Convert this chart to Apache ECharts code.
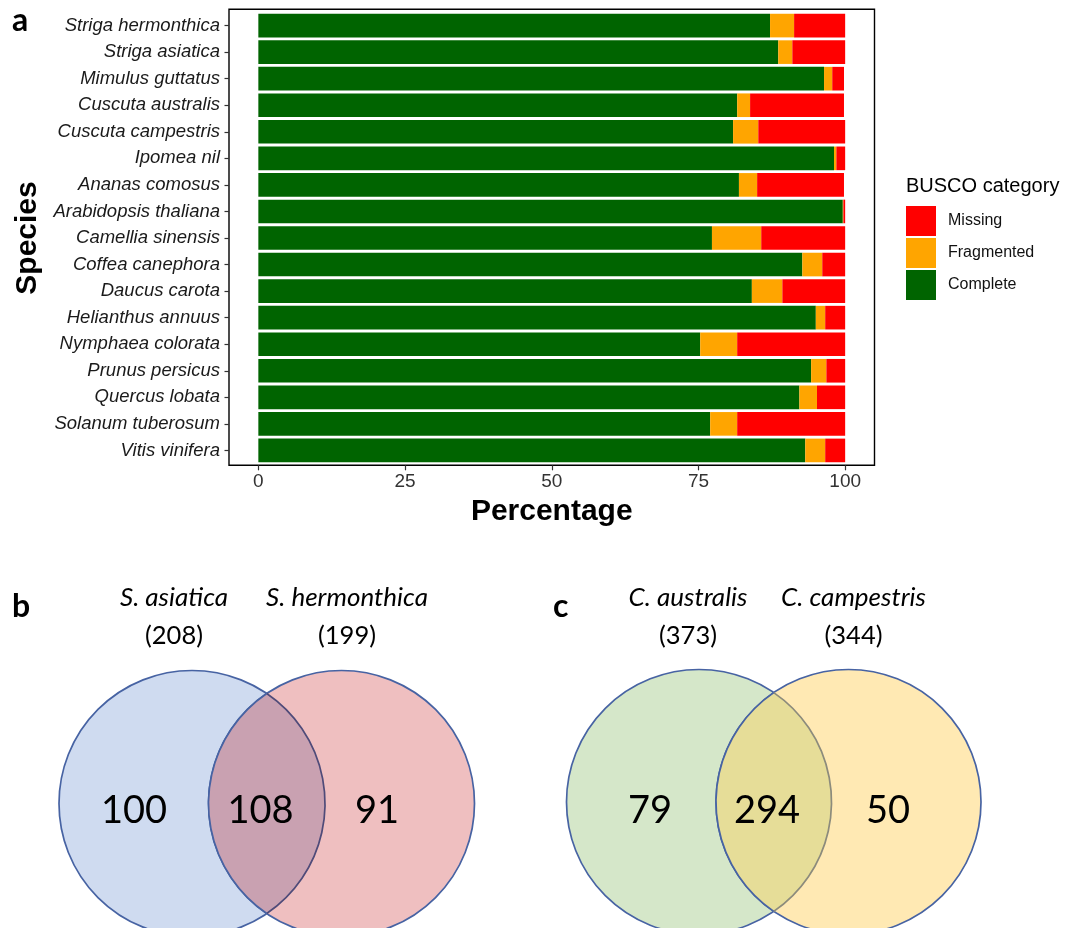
<!DOCTYPE html>
<html>
<head>
<meta charset="utf-8">
<script src="https://cdn.jsdelivr.net/npm/echarts@6/dist/echarts.min.js"></script>
<style>
  html, body { margin: 0; padding: 0; background: #ffffff; }
  #chart { width: 1073px; height: 928px; }
</style>
</head>
<body>
<div id="chart"></div>
<script>
// ---------------- DATA ----------------
const species = [
  'Striga hermonthica', 'Striga asiatica', 'Mimulus guttatus', 'Cuscuta australis',
  'Cuscuta campestris', 'Ipomea nil', 'Ananas comosus', 'Arabidopsis thaliana',
  'Camellia sinensis', 'Coffea canephora', 'Daucus carota', 'Helianthus annuus',
  'Nymphaea colorata', 'Prunus persicus', 'Quercus lobata', 'Solanum tuberosum',
  'Vitis vinifera'
];
const complete   = [87.2, 88.6, 96.4, 81.6, 80.9, 98.1, 81.9, 99.6, 77.3, 92.7, 84.1, 95.0, 75.3, 94.2, 92.2, 77.0, 93.2];
const fragmented = [4.1, 2.4, 1.4, 2.2, 4.3, 0.4, 3.1, 0.1, 8.4, 3.4, 5.2, 1.6, 6.3, 2.6, 3.0, 4.6, 3.4];
const missing    = [8.7, 9.0, 2.0, 16.0, 14.8, 1.5, 14.8, 0.3, 14.3, 3.9, 10.7, 3.4, 18.4, 3.2, 4.8, 18.4, 3.4];
const xTicks = [0, 25, 50, 75, 100];
const buscoCategories = ['Missing', 'Fragmented', 'Complete'];

const vennBNames  = ['S. asiatica', 'S. hermonthica'];
const vennBTotals = [208, 199];
const vennBCounts = [100, 108, 91];   // only left, shared, only right

const vennCNames  = ['C. australis', 'C. campestris'];
const vennCTotals = [373, 344];
const vennCCounts = [79, 294, 50];

// ---------------- STYLE / LAYOUT ----------------
const SANS = "'Liberation Sans', Arial, Helvetica, sans-serif";
const CAL = "Lato, 'Open Sans', sans-serif";
const colComplete = '#006400', colFrag = '#FFA500', colMissing = '#FF0000';

const vennB = {
  names: vennBNames, totals: vennBTotals, counts: vennBCounts,
  cx: [192, 341.5], cy: 233.5, r: 133,
  nameX: [174, 347], nameY: 28, totalY: 66,
  countX: [134, 260.5, 377], countY: 241,
  fillL: '#cfdbf0', fillR: '#efbfc0', fillO: '#c9a1b1', arcO: '#4f4b79'
};
const vennC = {
  names: vennCNames, totals: vennCTotals, counts: vennCCounts,
  cx: [159, 308.5], cy: 232, r: 132.5,
  nameX: [148, 313.5], nameY: 28, totalY: 66,
  countX: [110, 227, 348], countY: 241,
  fillL: '#d5e7c9', fillR: '#ffe9b3', fillO: '#e6dd98', arcO: '#8c8b7c'
};
const strokeBlue = '#4763a3';

function vennRender(v) {
  return function (params, api) {
    const c1 = api.coord([v.cx[0], v.cy]);
    const c2 = api.coord([v.cx[1], v.cy]);
    const r = Math.abs(api.size([v.r, 0])[0]);
    const a = (c2[0] - c1[0]) / 2;
    const h = Math.sqrt(r * r - a * a);
    const mx = c1[0] + a;
    const tp = [mx, c1[1] - h], bt = [mx, c1[1] + h];
    const lens = 'M ' + tp[0] + ' ' + tp[1] + ' A ' + r + ' ' + r + ' 0 0 1 ' + bt[0] + ' ' + bt[1] +
                 ' A ' + r + ' ' + r + ' 0 0 1 ' + tp[0] + ' ' + tp[1] + ' Z';
    const leftArc = 'M ' + tp[0] + ' ' + tp[1] + ' A ' + r + ' ' + r + ' 0 0 1 ' + bt[0] + ' ' + bt[1];
    const rightArc = 'M ' + bt[0] + ' ' + bt[1] + ' A ' + r + ' ' + r + ' 0 0 1 ' + tp[0] + ' ' + tp[1];
    const children = [
      { type: 'circle', shape: { cx: c1[0], cy: c1[1], r: r }, style: { fill: v.fillL, stroke: strokeBlue, lineWidth: 1.7 } },
      { type: 'circle', shape: { cx: c2[0], cy: c2[1], r: r }, style: { fill: v.fillR, stroke: strokeBlue, lineWidth: 1.7 } },
      { type: 'path', shape: { pathData: lens }, style: { fill: v.fillO, stroke: null } },
      { type: 'path', shape: { pathData: leftArc }, style: { fill: null, stroke: v.arcO, lineWidth: 1.7 } },
      { type: 'path', shape: { pathData: rightArc }, style: { fill: null, stroke: strokeBlue, lineWidth: 1.7 } }
    ];
    for (let i = 0; i < 2; i++) {
      const pn = api.coord([v.nameX[i], v.nameY]);
      const pt = api.coord([v.nameX[i], v.totalY]);
      children.push({ type: 'text', x: pn[0], y: pn[1], style: {
        text: v.names[i], fontFamily: CAL, fontStyle: 'italic', fontSize: 26, fill: '#000',
        align: 'center', verticalAlign: 'middle' } });
      children.push({ type: 'text', x: pt[0], y: pt[1], style: {
        text: '(' + v.totals[i] + ')', fontFamily: CAL, fontSize: 25.5, fill: '#000',
        align: 'center', verticalAlign: 'middle' } });
    }
    for (let i = 0; i < 3; i++) {
      const pc = api.coord([v.countX[i], v.countY]);
      children.push({ type: 'text', x: pc[0], y: pc[1], style: {
        text: String(v.counts[i]), fontFamily: CAL, fontSize: 38, fill: '#000',
        align: 'center', verticalAlign: 'middle' } });
    }
    return { type: 'group', children: children };
  };
}

const chart = echarts.init(document.getElementById('chart'), null, { renderer: 'canvas' });

const letterStyle = { fontFamily: CAL, fontWeight: 'bold', fontSize: 32, color: '#000' };
const option = {
  backgroundColor: '#ffffff',
  animation: false,
  title: [
    { text: 'a', left: 12, top: 5, padding: 0, textStyle: letterStyle },
    { text: 'b', left: 12, top: 591, padding: 0, textStyle: letterStyle },
    { text: 'c', left: 553, top: 591, padding: 0, textStyle: letterStyle },
    { text: 'BUSCO category', left: 906, top: 176, padding: 0,
      textStyle: { fontFamily: SANS, fontWeight: 'normal', fontSize: 20, color: '#000' } }
  ],
  legend: {
    data: buscoCategories,
    orient: 'vertical',
    left: 906, top: 206, padding: 0,
    itemWidth: 30, itemHeight: 30, itemGap: 2,
    icon: 'rect',
    selectedMode: false,
    textStyle: { fontFamily: SANS, fontSize: 16, color: '#111', padding: [0, 0, 0, 7] }
  },
  grid: [
    { left: 229, right: 198.5, top: 12.3, bottom: 464.3, containLabel: false },
    { left: 229, right: 198.5, top: 9.3, bottom: 462.7, show: true, borderColor: '#000', borderWidth: 1.4, backgroundColor: 'transparent' },
    { left: 0, top: 570, width: 540, height: 358 },
    { left: 540, top: 570, width: 533, height: 358 }
  ],
  xAxis: [
    {
      type: 'value', gridIndex: 0, min: -5, max: 105, offset: 1.6,
      name: 'Percentage', nameLocation: 'middle', nameGap: 31,
      nameTextStyle: { fontFamily: SANS, fontWeight: 'bold', fontSize: 30, color: '#000' },
      axisLine: { show: false, onZero: false },
      axisTick: { show: true, length: 5, customValues: xTicks, lineStyle: { color: '#333', width: 1.2 } },
      axisLabel: { customValues: xTicks, fontFamily: SANS, fontSize: 19, color: '#333', margin: 7 },
      splitLine: { show: false }
    },
    { type: 'value', gridIndex: 1, min: 0, max: 1, show: false },
    { type: 'value', gridIndex: 2, min: 0, max: 540, show: false },
    { type: 'value', gridIndex: 3, min: 0, max: 533, show: false }
  ],
  yAxis: [
    {
      type: 'category', gridIndex: 0, data: species, inverse: true,
      name: 'Species', nameLocation: 'middle', nameGap: 175, nameRotate: 90,
      nameTextStyle: { fontFamily: SANS, fontWeight: 'bold', fontSize: 30, color: '#000' },
      axisLine: { show: false, onZero: false },
      axisTick: { show: true, length: 4.5, alignWithLabel: true, lineStyle: { color: '#333', width: 1.2 } },
      axisLabel: { fontFamily: SANS, fontStyle: 'italic', fontSize: 18.5, color: '#1a1a1a', margin: 9 }
    },
    { type: 'value', gridIndex: 1, min: 0, max: 1, show: false },
    { type: 'value', gridIndex: 2, min: 0, max: 358, inverse: true, show: false },
    { type: 'value', gridIndex: 3, min: 0, max: 358, inverse: true, show: false }
  ],
  series: [
    { name: 'Complete', type: 'bar', stack: 'busco', xAxisIndex: 0, yAxisIndex: 0, data: complete,
      barWidth: '89%', itemStyle: { color: colComplete } },
    { name: 'Fragmented', type: 'bar', stack: 'busco', xAxisIndex: 0, yAxisIndex: 0, data: fragmented,
      barWidth: '89%', itemStyle: { color: colFrag } },
    { name: 'Missing', type: 'bar', stack: 'busco', xAxisIndex: 0, yAxisIndex: 0, data: missing,
      barWidth: '89%', itemStyle: { color: colMissing } },
    { type: 'custom', xAxisIndex: 2, yAxisIndex: 2, data: [[0, 0]], renderItem: vennRender(vennB), silent: true, clip: false },
    { type: 'custom', xAxisIndex: 3, yAxisIndex: 3, data: [[0, 0]], renderItem: vennRender(vennC), silent: true, clip: false }
  ]
};
chart.setOption(option);
</script>
</body>
</html>
